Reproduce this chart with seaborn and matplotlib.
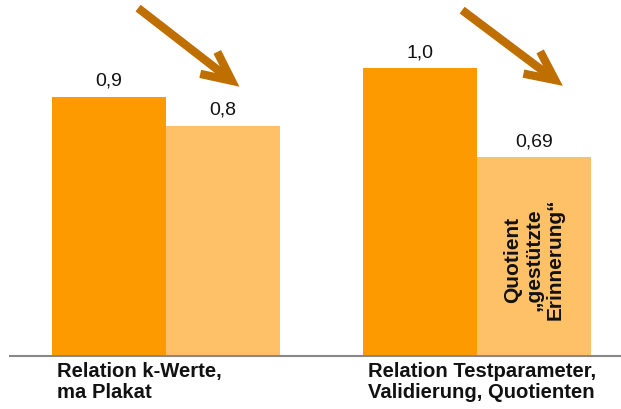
import matplotlib
matplotlib.use("Agg")
import matplotlib.pyplot as plt
import seaborn as sns
import pandas as pd

# Categories and series values
groups = ["Relation k-Werte,\nma Plakat", "Relation Testparameter,\nValidierung, Quotienten"]
series = ["Basis", "Vergleich"]
values_basis = [0.9, 1.0]
values_vergleich = [0.8, 0.69]
bar_note = "Quotient\n\u201egest\u00fctzte\nErinnerung\u201c"

colors = {"Basis": "#FD9A00", "Vergleich": "#FFC167"}
arrow_color = "#BF6E00"

sns.set_theme(style="white")
plt.rcParams["font.family"] = ["Liberation Sans", "DejaVu Sans"]

df = pd.DataFrame({
    "group": groups * 2,
    "series": [series[0]] * 2 + [series[1]] * 2,
    "value": values_basis + values_vergleich,
})

fig = plt.figure(figsize=(6.21, 4.09), dpi=100)
ax = fig.add_axes([10 / 621, 53 / 409, 611 / 621, 356 / 409])

sns.barplot(data=df, x="group", y="value", hue="series", hue_order=series,
            order=groups, palette=colors, width=0.733, saturation=1,
            legend=False, ax=ax, linewidth=0)

ax.set_ylim(0, 356 / 288)
ax.set_xlim(-0.502, 1.463)

# value labels with decimal comma
for cont, vals in zip(ax.containers, [values_basis, values_vergleich]):
    labels = [str(v).replace(".", ",") for v in vals]
    ax.bar_label(cont, labels=labels, padding=5, fontsize=14, color="#111111")

# category labels, left aligned under each group
for i, g in enumerate(groups):
    ax.text(i - 0.352, -0.018, g, transform=ax.get_xaxis_transform(),
            ha="left", va="top", fontsize=14.6, fontweight="bold",
            color="#111111", linespacing=1.1)

# rotated note inside the last light bar
last = ax.containers[1][1]
ax.text(last.get_x() + last.get_width() / 2, 0.335, bar_note,
        rotation=90, ha="center", va="center", multialignment="center",
        fontsize=15, fontweight="bold", color="#111111", linespacing=1.15)

# downward trend arrows
for start, end in [((-0.090, 1.208), (0.236, 0.935)),
                   ((0.952, 1.201), (1.276, 0.938))]:
    ax.annotate("", xy=end, xytext=start, annotation_clip=False,
                arrowprops=dict(arrowstyle="->,head_length=2.1,head_width=1.0",
                                color=arrow_color, lw=6,
                                shrinkA=0, shrinkB=0, mutation_scale=10,
                                capstyle="butt", joinstyle="miter"))

ax.set_xlabel("")
ax.set_ylabel("")
ax.set_xticks([])
ax.set_yticks([])
for s in ["top", "left", "right"]:
    ax.spines[s].set_visible(False)
ax.spines["bottom"].set_color("#888888")
ax.spines["bottom"].set_linewidth(1.5)

fig.savefig("out.png", dpi=100)
